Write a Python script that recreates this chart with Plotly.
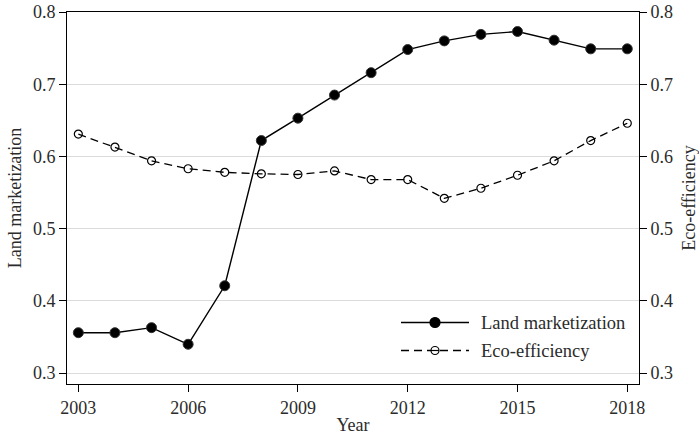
import plotly.graph_objects as go

# Annual series, 2003-2018
years = list(range(2003, 2019))
land_marketization = [0.356, 0.356, 0.363, 0.340, 0.421, 0.622, 0.653, 0.685,
                      0.716, 0.748, 0.760, 0.769, 0.773, 0.761, 0.749, 0.749]
eco_efficiency = [0.631, 0.613, 0.594, 0.583, 0.578, 0.576, 0.575, 0.580,
                  0.568, 0.568, 0.542, 0.556, 0.574, 0.594, 0.622, 0.646]
x_ticks = [2003, 2006, 2009, 2012, 2015, 2018]
y_ticks = [0.3, 0.4, 0.5, 0.6, 0.7, 0.8]
series_names = ["Land marketization", "Eco-efficiency"]

FONT = "Liberation Serif"
TEXT = "#2b2b2b"
Y_RANGE = [0.285, 0.8]

fig = go.Figure()
fig.add_trace(go.Scatter(
    x=years, y=land_marketization, name=series_names[0], mode="lines+markers",
    line=dict(color="black", width=1.4),
    marker=dict(symbol="circle", size=10, color="black",
                line=dict(color="#333", width=1)),
    showlegend=False,
))
fig.add_trace(go.Scatter(
    x=years, y=eco_efficiency, name=series_names[1], mode="lines+markers",
    yaxis="y2",
    line=dict(color="black", width=1.3, dash="8px,5px"),
    marker=dict(symbol="circle-open", size=8, color="black",
                line=dict(color="black", width=1.2)),
    showlegend=False,
))

axis_common = dict(
    showline=True, linecolor="black", linewidth=1,
    ticks="outside", ticklen=7, tickcolor="black", tickwidth=1,
    tickfont=dict(family=FONT, size=18, color=TEXT),
    zeroline=False, automargin=False,
)
title_font = dict(family=FONT, size=18, color=TEXT)

fig.update_layout(
    width=699, height=435,
    margin=dict(l=67, r=60, t=12, b=51),
    paper_bgcolor="white", plot_bgcolor="white",
    font=dict(family=FONT, color=TEXT),
    xaxis=dict(
        **axis_common, range=[2002.69, 2018.32], tickvals=x_ticks,
        showgrid=False, mirror=True,
        title=dict(text="Year", font=title_font, standoff=1),
    ),
    yaxis=dict(
        **axis_common, range=Y_RANGE, tickvals=y_ticks, tickformat=".1f",
        showgrid=True, gridcolor="#dcdcdc", gridwidth=1,
        title=dict(text="Land marketization", font=title_font, standoff=6),
    ),
    yaxis2=dict(
        **axis_common, range=Y_RANGE, tickvals=y_ticks, tickformat=".1f",
        overlaying="y", side="right", showgrid=False,
        title=dict(text="Eco-efficiency", font=title_font, standoff=10),
    ),
)

# Legend box drawn in paper coordinates: line sample, marker, label
x0p, x1p = 67, 639
y0p, y1p = 12, 384


def px_x(px):
    return (px - x0p) / (x1p - x0p)


def px_y(py):
    return (y1p - py) / (y1p - y0p)


legend_rows = [
    (322.5, "solid", "circle", series_names[0]),
    (350.5, "8px,5px", "circle-open", series_names[1]),
]
for ly, dash, sym, label in legend_rows:
    fig.add_shape(type="line", xref="paper", yref="paper",
                  x0=px_x(401), x1=px_x(469), y0=px_y(ly), y1=px_y(ly),
                  line=dict(color="black", width=1.4, dash=dash))
    r = 5 if sym == "circle" else 4
    fig.add_shape(type="circle", xref="paper", yref="paper",
                  x0=px_x(435 - r), x1=px_x(435 + r),
                  y0=px_y(ly + r), y1=px_y(ly - r),
                  fillcolor="black" if sym == "circle" else "white",
                  line=dict(color="black", width=1.2))
    if sym == "circle-open":
        fig.add_shape(type="line", xref="paper", yref="paper",
                      x0=px_x(435 - r), x1=px_x(435 + r),
                      y0=px_y(ly), y1=px_y(ly),
                      line=dict(color="black", width=1.2))
    fig.add_annotation(xref="paper", yref="paper", x=px_x(479), y=px_y(ly),
                       text=label, showarrow=False, xanchor="left",
                       yanchor="middle",
                       font=dict(family=FONT, size=18.5, color=TEXT))

fig.write_html("out.html")
